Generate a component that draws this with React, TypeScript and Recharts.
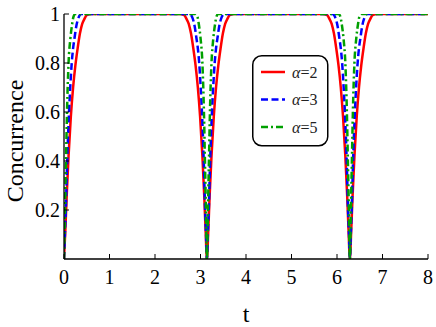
import { Legend, Line, LineChart, XAxis, YAxis } from "recharts";

// dips sit at t = 0, pi, 2pi
const dipCenters = [0, 3.1416, 6.2832];

// distance from a dip centre -> concurrence
const redOffsets = [0, 0.03, 0.06, 0.1, 0.15, 0.2, 0.25, 0.3, 0.35, 0.4, 0.45, 0.5, 0.6];
const redValues = [0, 0.12, 0.26, 0.42, 0.58, 0.7, 0.79, 0.86, 0.92, 0.96, 0.98, 0.995, 1];

const blueOffsets = [0, 0.02, 0.04, 0.07, 0.11, 0.14, 0.17, 0.2, 0.23, 0.27, 0.32, 0.38];
const blueValues = [0, 0.1, 0.2, 0.4, 0.6, 0.71, 0.8, 0.86, 0.9, 0.95, 0.985, 1];

const greenOffsets = [0, 0.022, 0.044, 0.066, 0.1, 0.14, 0.18, 0.21, 0.25];
const greenValues = [0, 0.2, 0.4, 0.6, 0.8, 0.9, 0.96, 0.99, 1];

const xTicks = [0, 1, 2, 3, 4, 5, 6, 7, 8];
const yTicks = [0.2, 0.4, 0.6, 0.8, 1];

const seriesNames = ["α=2", "α=3", "α=5"];
const seriesColors = ["#ff0000", "#0000ff", "#00a000"];
const seriesDash = [undefined, "7 3.5", "7 3 2 3"];

const serif = "Liberation Serif, Times New Roman, DejaVu Serif, serif";
const serifStyle = { fontFamily: serif };

function buildSeries(offsets: number[], values: number[]) {
  const pts: { t: number; c: number }[] = [];
  dipCenters.forEach((c) => {
    for (let i = offsets.length - 1; i > 0; i--) {
      const t = c - offsets[i];
      if (t >= 0) pts.push({ t, c: values[i] });
    }
    pts.push({ t: c, c: values[0] });
    for (let i = 1; i < offsets.length; i++) {
      pts.push({ t: c + offsets[i], c: values[i] });
    }
  });
  pts.push({ t: 8, c: 1 });
  return pts;
}

const redData = buildSeries(redOffsets, redValues);
const blueData = buildSeries(blueOffsets, blueValues);
const greenData = buildSeries(greenOffsets, greenValues);
const allData = [redData, blueData, greenData];

const XTick = (props: any) => {
  const { x, y, payload } = props;
  return (
    <g>
      <line x1={x} x2={x} y1={y} y2={y - 5} stroke="#000" strokeWidth={1} />
      <text x={x} y={y + 25} textAnchor="middle" fontSize={20} style={serifStyle} fill="#000">
        {payload.value}
      </text>
    </g>
  );
};

const YTick = (props: any) => {
  const { x, y, payload } = props;
  return (
    <g>
      <line x1={x} x2={x + 5} y1={y} y2={y} stroke="#000" strokeWidth={1} />
      <text x={x - 4} y={y + 7} textAnchor="end" fontSize={20} style={serifStyle} fill="#000">
        {payload.value}
      </text>
    </g>
  );
};

const LegendBox = () => (
  <svg width={77} height={92} style={{ display: "block" }}>
    <rect x={0.75} y={0.75} width={75} height={90} rx={9} fill="#fff" stroke="#000" strokeWidth={1.5} />
    {seriesNames.map((name, i) => {
      const y = 17 + i * 27.5;
      return (
        <g key={name}>
          <line
            x1={9}
            x2={33}
            y1={y}
            y2={y}
            stroke={seriesColors[i]}
            strokeWidth={2.5}
            strokeDasharray={seriesDash[i]}
          />
          <text x={40} y={y + 5.5} fontSize={16} style={serifStyle} fill="#222">
            <tspan fontStyle="italic">α</tspan>
            {name.slice(1)}
          </text>
        </g>
      );
    })}
  </svg>
);

export default function App() {
  return (
    <div style={{ width: 436, height: 327, background: "#fff", fontFamily: serif }}>
      <style>{`body{margin:0}`}</style>
      <LineChart width={436} height={327} margin={{ top: 14, right: 8, left: 0, bottom: 0 }}>
        <XAxis
          dataKey="t"
          type="number"
          domain={[0, 8]}
          ticks={xTicks}
          allowDataOverflow
          height={68}
          tickSize={0}
          tickMargin={0}
          tickLine={false}
          tick={<XTick />}
          axisLine={{ stroke: "#000", strokeWidth: 1.3 }}
          label={() => (
            <text x={246} y={322} textAnchor="middle" fontSize={24} style={serifStyle} fill="#000">
              t
            </text>
          )}
        />
        <XAxis
          xAxisId="top"
          orientation="top"
          type="number"
          domain={[0, 8]}
          height={0}
          tick={false}
          tickLine={false}
          axisLine={{ stroke: "#555", strokeWidth: 1.3 }}
        />
        <YAxis
          type="number"
          domain={[0, 1]}
          ticks={yTicks}
          allowDataOverflow
          width={64}
          tickSize={0}
          tickMargin={0}
          tickLine={false}
          tick={<YTick />}
          axisLine={{ stroke: "#000", strokeWidth: 1.3 }}
          label={() => (
            <text
              x={23}
              y={141}
              transform="rotate(-90 23 141)"
              textAnchor="middle"
              fontSize={24}
              style={serifStyle}
              fill="#000"
            >
              Concurrence
            </text>
          )}
        />
        <YAxis
          yAxisId="right"
          orientation="right"
          type="number"
          domain={[0, 1]}
          width={0}
          tick={false}
          tickLine={false}
          axisLine={{ stroke: "#555", strokeWidth: 1.3 }}
        />
        {allData.map((d, i) => (
          <Line
            key={seriesNames[i]}
            data={d}
            dataKey="c"
            name={seriesNames[i]}
            type="monotone"
            stroke={seriesColors[i]}
            strokeWidth={2.5}
            strokeDasharray={seriesDash[i]}
            dot={false}
            activeDot={false}
            isAnimationActive={false}
          />
        ))}
        <Legend
          layout="horizontal"
          verticalAlign="middle"
          align="center"
          content={<LegendBox />}
          wrapperStyle={{ position: "absolute", left: 252, top: 55, width: 77, height: 92 }}
        />
      </LineChart>
    </div>
  );
}
